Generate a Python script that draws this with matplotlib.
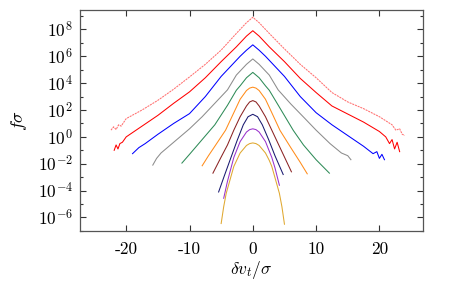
import matplotlib
matplotlib.use("Agg")
import matplotlib.pyplot as plt
import numpy as np

# log10(f*sigma), one list pair per curve (top to bottom)
x_lred = [-22.4, -22.0, -21.6, -21.2, -20.8, -20.0, -17.5, -15, -12.5, -10, -7.5, -5, -2.6, -2, -1, 0,
          1, 2, 2.6, 5, 7.5, 10, 12.5, 15, 17.5, 20, 21, 22, 22.6, 23.2, 23.6, 24.0]
y_lred = [0.5, 0.75, 0.55, 0.9, 0.8, 1.36, 2.0, 2.72, 3.55, 4.46, 5.4, 6.46, 7.7, 8.0, 8.5, 8.9,
          8.5, 8.0, 7.7, 6.55, 5.4, 4.4, 3.3, 2.6, 2.1, 1.5, 1.2, 0.9, 0.5, 0.6, 0.2, 0.1]

x_red = [-21.9, -21.6, -21.3, -21.0, -20.6, -20.0, -17.5, -15, -12.5, -10, -7.5, -5, -2.6, -2, -1, 0,
         1, 2, 2.6, 5, 7.5, 10, 12.5, 15, 17.5, 20, 21, 21.6, 22, 22.4, 22.8, 23.2]
y_red = [-1.0, -0.6, -0.9, -0.5, -0.4, 0.0, 0.8, 1.6, 2.5, 3.35, 4.4, 5.6, 6.7, 7.0, 7.5, 7.9,
         7.5, 7.0, 6.7, 5.6, 4.35, 3.3, 2.3, 1.7, 1.1, 0.4, 0.0, -0.5, -0.2, -0.9, -0.4, -1.1]

x_blue = [-19, -18, -17, -15, -12.5, -10, -7.5, -5, -2.6, -2, -1, 0,
          1, 2, 2.6, 5, 7.5, 10, 12.5, 15, 17.5, 19, 19.6, 20, 20.4, 20.8]
y_blue = [-1.25, -0.8, -0.5, 0.19, 1.0, 1.73, 3.0, 4.5, 5.7, 6.0, 6.45, 6.85,
          6.45, 6.0, 5.7, 4.5, 3.0, 1.8, 0.9, 0.1, -0.7, -1.25, -1.1, -1.6, -1.3, -1.7]

x_gray = [-15.8, -15.2, -14.5, -13, -11.5, -10, -8, -6, -4, -2.6, -2, -1, 0,
          1, 2, 2.6, 4, 6, 8, 10, 12.2, 14, 15, 15.5]
y_gray = [-2.1, -1.6, -1.2, -0.6, 0.0, 0.6, 1.5, 2.5, 3.5, 4.6, 4.9, 5.4, 5.8,
          5.4, 4.9, 4.6, 3.5, 2.45, 1.48, 0.5, -0.5, -1.2, -1.4, -1.7]

x_green = [-11.2, -10, -8, -6, -4, -2.6, -2, -1, 0, 1, 2, 2.6, 4, 6.4, 8, 10, 12.1]
y_green = [-1.95, -1.3, -0.2, 0.9, 2.35, 3.47, 3.8, 4.4, 4.8, 4.4, 3.8, 3.47, 2.37, 0.48, -0.6, -1.7, -2.7]

x_orange = [-8, -7, -6, -4.3, -3, -2.6, -2, -1, -0.5, 0, 0.5, 1, 2, 2.6, 3, 4.3, 6, 7.5, 8.6]
y_orange = [-2.15, -1.4, -0.7, 0.5, 1.8, 2.2, 2.8, 3.45, 3.63, 3.7, 3.63, 3.45, 2.8, 2.2, 1.8, 0.48, -0.8, -1.9, -2.75]

x_brown = [-6.3, -5, -4, -3, -2, -1, -0.5, 0, 0.5, 1, 2, 3, 4, 5, 6.1]
y_brown = [-2.7, -1.5, -0.6, 0.5, 1.5, 2.3, 2.6, 2.7, 2.6, 2.3, 1.5, 0.5, -0.5, -1.5, -2.6]

x_navy = [-5.4, -4.5, -3.5, -2.5, -1.5, -0.75, 0, 0.75, 1.5, 2.5, 3.5, 4.8]
y_navy = [-4.1, -2.9, -1.6, -0.3, 0.9, 1.5, 1.68, 1.5, 0.9, -0.2, -1.4, -2.8]

x_purple = [-4.6, -4, -3, -2, -1, -0.5, 0, 0.5, 1, 2, 3, 3.5, 4.2]
y_purple = [-4.57, -3.3, -1.53, -0.35, 0.36, 0.54, 0.6, 0.54, 0.36, -0.35, -1.53, -2.3, -3.6]

x_gold = [-5, -4.6, -4.2, -3, -2, -1, -0.5, 0, 0.5, 1, 2, 2.6, 3, 4.2, 4.6, 5]
y_gold = [-6.45, -5.2, -4.2, -2.2, -1.2, -0.64, -0.5, -0.45, -0.5, -0.64, -1.2, -1.75, -2.2, -4.2, -5.2, -6.5]

curves = [
    (x_lred, y_lred, '#ff7070'),
    (x_red, y_red, '#ff0000'),
    (x_blue, y_blue, '#0000ff'),
    (x_gray, y_gray, '#8c8c8c'),
    (x_green, y_green, '#2e8b57'),
    (x_orange, y_orange, '#ff8c1a'),
    (x_brown, y_brown, '#8b2323'),
    (x_navy, y_navy, '#191970'),
    (x_purple, y_purple, '#9932cc'),
    (x_gold, y_gold, '#e0a830'),
]

xticks = [-20, -10, 0, 10, 20]
xtick_labels = ['-20', '-10', '0', '10', '20']
ydecades = [-6, -4, -2, 0, 2, 4, 6, 8]

plt.rcParams['mathtext.fontset'] = 'cm'
plt.rcParams['axes.unicode_minus'] = False

fig = plt.figure(figsize=(4.52, 2.83), dpi=100)
ax = fig.add_axes([0.177, 0.184, 0.759, 0.781])

for i, (xs, ys, c) in enumerate(curves):
    ls = (0, (2, 0.8)) if i == 0 else '-'
    ax.plot(xs, 10.0 ** np.array(ys), color=c, lw=0.75, ls=ls)

ax.set_yscale('log')
ax.set_xlim(-27.3, 26.9)
ax.set_ylim(1e-7, 10 ** 9.45)

ax.set_xticks(xticks)
ax.set_xticklabels(xtick_labels, fontfamily='cmr10', fontsize=12.5)
ax.set_yticks([10.0 ** d for d in ydecades])
ax.set_yticklabels(['$10^{%d}$' % d for d in ydecades], fontsize=12.5)
ax.set_yticks([10.0 ** d for d in range(-7, 10, 2)], minor=True)
ax.yaxis.set_minor_formatter(plt.NullFormatter())

ax.tick_params(which='both', direction='in', top=True, right=True, color='#333333')
ax.tick_params(which='major', length=4, width=0.8)
ax.tick_params(which='minor', length=2, width=0.8)
ax.tick_params(axis='x', pad=8)
ax.tick_params(axis='y', pad=5)
for s in ax.spines.values():
    s.set_color('#555555')
    s.set_linewidth(0.9)

ax.set_xlabel(r'$\delta v_t/\sigma$', fontsize=12.5, labelpad=1)
ax.set_ylabel(r'$f\sigma$', fontsize=13, labelpad=6)

fig.savefig('out.png', dpi=100)
